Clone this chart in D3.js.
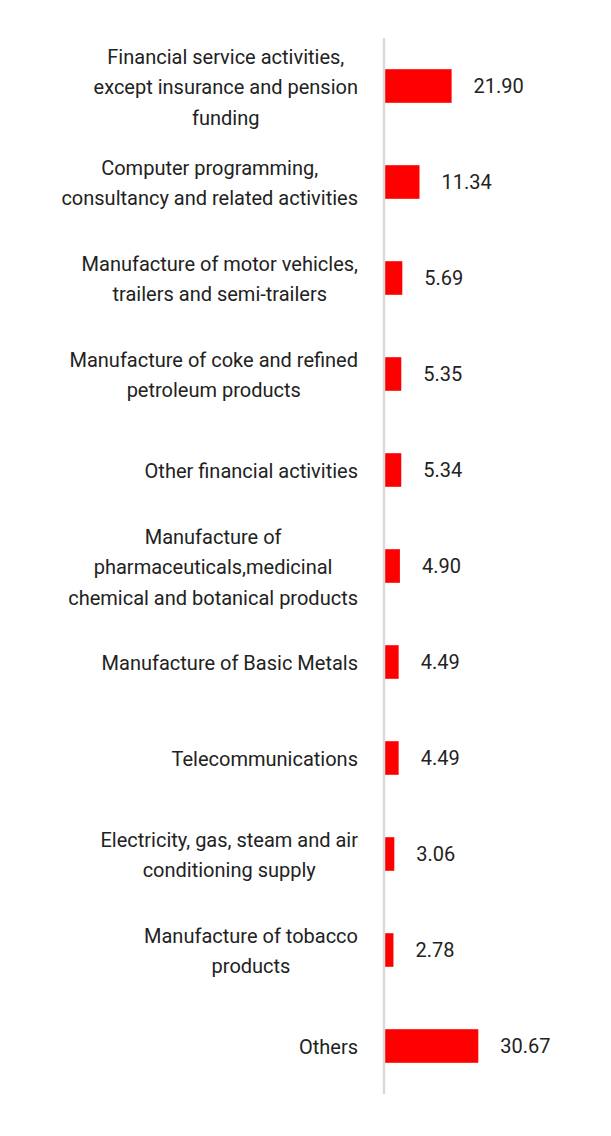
<!DOCTYPE html>
<html>
<head>
<meta charset="utf-8">
<script src="https://cdn.jsdelivr.net/npm/d3@7"></script>
<style>
  body { margin: 0; background: #fff; }
  text { font-family: Roboto, "Noto Sans", sans-serif; fill: #222; }
</style>
</head>
<body>
<div id="chart"></div>
<script>
//////////////////////////////////////////////////////////////////////////////
// Data

var categories = [
    "Financial service activities,\nexcept insurance and pension\nfunding",
    "Computer programming,\nconsultancy and related activities",
    "Manufacture of motor vehicles,\ntrailers and semi-trailers",
    "Manufacture of coke and refined\npetroleum products",
    "Other financial activities",
    "Manufacture of\npharmaceuticals,medicinal\nchemical and botanical products",
    "Manufacture of Basic Metals",
    "Telecommunications",
    "Electricity, gas, steam and air\nconditioning supply",
    "Manufacture of tobacco\nproducts",
    "Others"
];
var values = [21.90, 11.34, 5.69, 5.35, 5.34, 4.90, 4.49, 4.49, 3.06, 2.78, 30.67];

//////////////////////////////////////////////////////////////////////////////

var width = 611, height = 1136;
var axisX = 384;
var labelRight = 358;
var lineHeight = 30.5;

var xScale = d3.scaleLinear().domain([0, 30.67]).range([0, 93.3]);
var yScale = d3.scaleBand().domain(d3.range(categories.length))
    .range([38, 1094]).paddingInner(0.65).paddingOuter(0.325);

var svg = d3.select("#chart")
    .append("svg")
    .attr("width", width)
    .attr("height", height);

svg.append("g")
    .selectAll("rect")
    .data(values)
    .enter()
    .append("rect")
    .attr("x", axisX + 1)
    .attr("y", function(d, i) { return yScale(i); })
    .attr("width", function(d) { return xScale(d); })
    .attr("height", yScale.bandwidth())
    .attr("fill", "#ff0000");

svg.append("line")
    .attr("x1", axisX).attr("x2", axisX)
    .attr("y1", 38).attr("y2", 1094)
    .attr("stroke", "#d9d9d9")
    .attr("stroke-width", 2.5);

svg.append("g")
    .selectAll("text")
    .data(values)
    .enter()
    .append("text")
    .attr("x", function(d) { return axisX + 1 + xScale(d) + 22; })
    .attr("y", function(d, i) { return yScale(i) + yScale.bandwidth() / 2; })
    .attr("dy", "0.35em")
    .style("font-size", "20px")
    .text(function(d) { return d.toFixed(2); });

// category labels: block right-aligned, lines centred in block
var labels = svg.append("g")
    .selectAll("g")
    .data(categories)
    .enter()
    .append("g");

labels.each(function(c, i) {
    var g = d3.select(this);
    var lines = c.split("\n");
    var cy = yScale(i) + yScale.bandwidth() / 2 + 1;
    var top = cy - (lines.length - 1) * lineHeight / 2;
    var texts = g.selectAll("text")
        .data(lines)
        .enter()
        .append("text")
        .attr("y", function(d, j) { return top + j * lineHeight; })
        .attr("dy", "0.35em")
        .style("font-size", "20px")
        .attr("text-anchor", "middle")
        .text(function(d) { return d; });
    var maxW = d3.max(texts.nodes(), function(n) { return n.getComputedTextLength(); });
    texts.attr("x", labelRight - maxW / 2);
});
</script>
</body>
</html>
